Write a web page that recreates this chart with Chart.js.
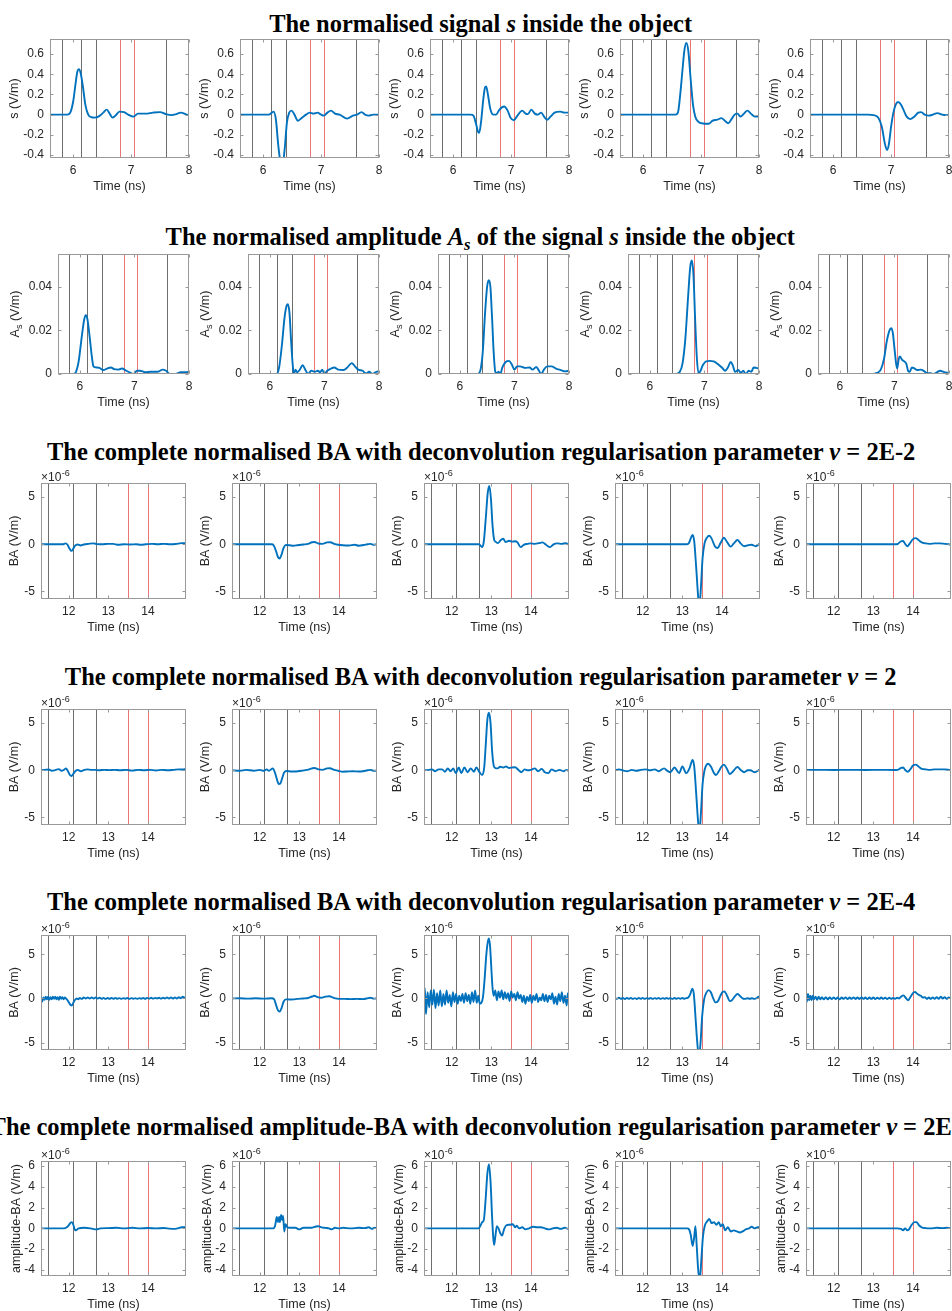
<!DOCTYPE html>
<html>
<head>
<meta charset="utf-8">
<script src="https://cdn.jsdelivr.net/npm/chart.js@4.4.1/dist/chart.umd.min.js"></script>
<style>
  html, body { margin: 0; padding: 0; background: #fff; }
  body { width: 952px; height: 1311px; overflow: hidden; position: relative; }
  .rowTitle {
    position: absolute; white-space: nowrap; color: #000;
    font-family: "Liberation Serif", "DejaVu Serif", serif; font-weight: bold;
    font-size: 26px; line-height: 1; transform-origin: 50% 50%;
  }
  .rowTitle sub { font-size: 0.68em; line-height: 0; vertical-align: -0.28em; }
  canvas { position: absolute; }
</style>
</head>
<body>
<script>
// ---------- time axes ----------
const tickTimeS  = [6, 7, 8];
const tickTimeBA = [12, 13, 14];

// ---------- value axes ----------
const tickS   = [-0.4, -0.2, 0, 0.2, 0.4, 0.6];
const tickAs  = [0, 0.02, 0.04];
const tickBA  = [-5, 0, 5];
const tickABA = [-4, -2, 0, 2, 4, 6];

// ---------- event markers (ns) ----------
const markS      = [5.8, 6.13, 6.4, 7.6];
const markSRed   = [6.8, 7.05];
const markBA     = [11.47, 12.1, 12.7];
const markBARed  = [13.5, 14.0];

// ---------- signal s inside the object (V/m) ----------
const sig1 = [[5.6,0],[5.9,0],[5.95,0.02],[6.0,0.13],[6.04,0.3],[6.07,0.42],[6.1,0.45],[6.13,0.41],[6.17,0.27],[6.21,0.1],[6.26,0.0],[6.31,-0.025],[6.37,-0.03],[6.45,-0.015],[6.52,0.02],[6.58,0.05],[6.63,0.01],[6.68,-0.03],[6.73,-0.01],[6.8,0.03],[6.88,0.025],[6.95,0.0],[7.04,-0.02],[7.12,0.01],[7.25,0.01],[7.38,0.02],[7.5,0.025],[7.6,0.005],[7.7,-0.005],[7.78,0.005],[7.86,0.02],[7.94,0.005],[8.0,-0.01]];
const sig2 = [[5.6,0],[6.1,0],[6.15,0.02],[6.18,0.03],[6.22,-0.05],[6.26,-0.3],[6.3,-0.48],[6.33,-0.52],[6.37,-0.35],[6.41,-0.08],[6.45,0.02],[6.49,0.04],[6.54,0.0],[6.6,-0.06],[6.67,-0.03],[6.74,0.0],[6.8,0.02],[6.87,0.01],[6.94,0.02],[7.0,0.0],[7.05,-0.01],[7.11,0.02],[7.17,0.04],[7.24,0.01],[7.32,0.0],[7.45,-0.04],[7.55,-0.01],[7.62,0.0],[7.7,0.025],[7.76,0.0],[7.82,-0.01],[7.9,0.0],[8.0,0.0]];
const sig3 = [[5.6,0],[6.3,0],[6.35,-0.01],[6.39,-0.08],[6.43,-0.17],[6.45,-0.18],[6.48,-0.08],[6.52,0.15],[6.55,0.27],[6.57,0.28],[6.6,0.2],[6.64,0.06],[6.69,0.0],[6.74,0.0],[6.8,0.05],[6.88,0.08],[6.94,0.04],[6.99,-0.03],[7.05,-0.055],[7.11,-0.01],[7.19,0.04],[7.25,0.01],[7.29,0.005],[7.35,0.05],[7.41,0.01],[7.46,0.0],[7.52,0.02],[7.57,-0.02],[7.62,-0.05],[7.68,-0.02],[7.75,0.02],[7.85,0.03],[7.92,0.02],[8.0,0.02]];
const sig4 = [[5.6,0],[6.56,0],[6.6,0.02],[6.64,0.2],[6.68,0.45],[6.71,0.63],[6.745,0.71],[6.78,0.63],[6.82,0.35],[6.86,0.1],[6.9,-0.02],[6.95,-0.07],[7.0,-0.085],[7.07,-0.09],[7.13,-0.09],[7.2,-0.06],[7.28,-0.05],[7.35,-0.035],[7.41,-0.06],[7.47,-0.085],[7.53,-0.04],[7.58,0.0],[7.63,0.01],[7.68,-0.02],[7.74,0.01],[7.8,0.04],[7.86,0.01],[7.93,-0.02],[8.0,-0.02]];
const sig5 = [[5.6,0],[6.6,0],[6.7,-0.005],[6.78,-0.03],[6.84,-0.12],[6.89,-0.28],[6.93,-0.35],[6.96,-0.3],[7.0,-0.12],[7.04,0.02],[7.08,0.1],[7.12,0.125],[7.17,0.1],[7.22,0.04],[7.27,-0.02],[7.33,-0.045],[7.4,-0.02],[7.47,0.02],[7.52,0.025],[7.58,0.0],[7.65,-0.01],[7.72,0.0],[7.8,0.015],[7.88,0.0],[7.95,-0.005],[8.0,0.0]];

// ---------- amplitude A_s of the signal (V/m) ----------
const amp1 = [[5.6,0],[5.88,0],[5.93,0.001],[5.98,0.006],[6.03,0.016],[6.08,0.025],[6.11,0.027],[6.14,0.025],[6.18,0.017],[6.22,0.008],[6.25,0.0035],[6.3,0.003],[6.36,0.0028],[6.43,0.0018],[6.5,0.0025],[6.57,0.003],[6.63,0.0022],[6.7,0.002],[6.77,0.0025],[6.85,0.0015],[6.93,0.0005],[6.98,0.0],[7.05,0.0015],[7.1,0.0015],[7.2,0.0008],[7.3,0.001],[7.42,0.001],[7.52,0.002],[7.58,0.0015],[7.65,0.0],[7.75,0.0],[7.85,0.0008],[7.95,0.0008],[8.0,0.001]];
const amp2 = [[5.6,0],[6.12,0],[6.17,0.003],[6.22,0.013],[6.27,0.026],[6.31,0.0315],[6.33,0.032],[6.36,0.028],[6.39,0.015],[6.42,0.004],[6.44,0.0],[6.47,0.002],[6.5,0.0008],[6.55,0.002],[6.6,0.004],[6.65,0.002],[6.7,0.0],[6.76,0.0015],[6.82,0.001],[6.88,0.0015],[6.92,0.0008],[6.96,0.002],[7.0,0.0],[7.05,0.0015],[7.12,0.0025],[7.18,0.003],[7.25,0.002],[7.35,0.0018],[7.42,0.003],[7.5,0.005],[7.56,0.0035],[7.62,0.002],[7.7,0.0015],[7.76,0.0002],[7.82,0.001],[7.88,0.0],[7.95,0.001],[8.0,0.0012]];
const amp3 = [[5.6,0],[6.33,0],[6.38,0.002],[6.42,0.01],[6.46,0.027],[6.5,0.04],[6.53,0.043],[6.56,0.04],[6.59,0.026],[6.62,0.01],[6.65,0.001],[6.68,0.0005],[6.71,0.001],[6.74,0.0],[6.78,0.003],[6.84,0.0055],[6.9,0.006],[6.95,0.0045],[7.0,0.002],[7.05,0.0035],[7.1,0.0035],[7.2,0.0028],[7.28,0.003],[7.33,0.002],[7.4,0.0032],[7.45,0.0015],[7.49,0.0],[7.54,0.002],[7.6,0.0035],[7.68,0.0035],[7.76,0.0025],[7.85,0.0018],[7.93,0.0012],[8.0,0.0015]];
const amp4 = [[5.6,0],[6.48,0],[6.55,0.001],[6.6,0.005],[6.65,0.016],[6.7,0.035],[6.74,0.049],[6.77,0.052],[6.8,0.045],[6.83,0.025],[6.86,0.008],[6.89,0.0005],[6.92,0.001],[6.97,0.004],[7.03,0.0058],[7.1,0.006],[7.17,0.0058],[7.25,0.0045],[7.32,0.003],[7.38,0.0015],[7.43,0.003],[7.48,0.0055],[7.52,0.004],[7.56,0.001],[7.62,0.0018],[7.67,0.0005],[7.71,0.0015],[7.76,0.0],[7.81,0.0015],[7.86,0.001],[7.9,0.003],[7.95,0.0028],[8.0,0.0025]];
const amp5 = [[5.6,0],[6.6,0],[6.68,0.0005],[6.75,0.002],[6.81,0.007],[6.86,0.015],[6.91,0.02],[6.94,0.021],[6.97,0.019],[7.0,0.012],[7.03,0.005],[7.05,0.0025],[7.08,0.007],[7.1,0.008],[7.14,0.0065],[7.18,0.0058],[7.22,0.0045],[7.25,0.0015],[7.28,0.001],[7.32,0.003],[7.37,0.0025],[7.42,0.0018],[7.48,0.002],[7.55,0.0012],[7.6,0.0003],[7.66,0.0004],[7.72,0.0],[7.78,0.0008],[7.84,0.0015],[7.9,0.001],[8.0,0.0004]];

// ---------- BA, nu = 2E-2 (x 1e-6 V/m) ----------
const baA1 = [[11.3,0],[11.85,0],[11.92,0.1],[11.97,-0.05],[12.02,-0.45],[12.07,-0.7],[12.11,-0.5],[12.16,-0.15],[12.22,-0.02],[12.3,-0.12],[12.38,-0.02],[12.5,0.05],[12.62,0.1],[12.72,0.02],[12.85,0.0],[13.0,0.05],[13.12,0.05],[13.25,-0.05],[13.4,0.0],[13.55,-0.02],[13.7,0.0],[13.82,-0.05],[13.95,0.0],[14.1,0.05],[14.25,0.0],[14.4,0.05],[14.55,0.0],[14.7,0.03],[14.85,0.12],[14.96,0.1]];
const baA2 = [[11.3,0],[12.3,0],[12.35,-0.1],[12.41,-0.7],[12.46,-1.35],[12.5,-1.5],[12.55,-1.1],[12.6,-0.4],[12.66,-0.08],[12.75,-0.1],[12.85,-0.15],[12.95,-0.1],[13.1,-0.02],[13.22,0.05],[13.32,0.22],[13.38,0.25],[13.48,0.08],[13.58,0.05],[13.7,0.2],[13.78,0.22],[13.88,0.05],[13.98,-0.05],[14.1,-0.1],[14.25,-0.12],[14.4,-0.05],[14.5,-0.15],[14.62,-0.08],[14.72,0.0],[14.8,0.05],[14.86,-0.05],[14.96,0.0]];
const baA3 = [[11.3,0],[12.68,0],[12.72,-0.1],[12.77,-0.3],[12.81,0.3],[12.86,2.8],[12.91,5.5],[12.95,6.2],[12.99,4.8],[13.03,2.0],[13.07,0.5],[13.1,0.3],[13.16,0.12],[13.24,0.45],[13.3,0.6],[13.36,0.25],[13.45,0.38],[13.52,0.28],[13.6,0.32],[13.66,0.2],[13.74,-0.3],[13.82,-0.05],[13.92,0.05],[13.99,0.1],[14.1,0.05],[14.2,0.12],[14.29,0.2],[14.38,-0.05],[14.48,-0.3],[14.57,0.0],[14.66,0.1],[14.78,0.05],[14.88,0.12],[14.96,-0.1]];
const baA4 = [[11.3,0],[13.1,0],[13.16,0.1],[13.22,0.7],[13.26,1.0],[13.3,0.3],[13.35,-2.5],[13.4,-5.6],[13.43,-6.6],[13.47,-4.5],[13.51,-1.5],[13.56,0.1],[13.62,0.7],[13.68,0.9],[13.74,0.6],[13.82,-0.2],[13.89,-0.4],[13.96,0.1],[14.05,0.7],[14.12,0.3],[14.22,-0.25],[14.3,0.1],[14.39,0.45],[14.47,0.1],[14.56,-0.2],[14.66,-0.1],[14.75,-0.05],[14.85,-0.2],[14.96,0.1]];
const baA5 = [[11.3,0],[13.55,0],[13.62,0.05],[13.69,0.3],[13.75,0.35],[13.81,0.0],[13.86,-0.2],[13.92,0.1],[14.0,0.55],[14.07,0.65],[14.14,0.45],[14.22,0.2],[14.32,0.1],[14.42,0.05],[14.55,0.1],[14.68,0.1],[14.8,0.05],[14.9,0.0],[14.96,-0.05]];

// ---------- BA, nu = 2 (x 1e-6 V/m) ----------
const baB1 = [[11.3,0],[11.38,0.05],[11.49,0.08],[11.58,-0.05],[11.66,0.02],[11.75,0.12],[11.82,-0.05],[11.88,0.05],[11.93,0.2],[11.98,-0.1],[12.03,-0.5],[12.07,-0.6],[12.12,-0.35],[12.17,-0.08],[12.23,0.05],[12.3,-0.1],[12.38,0.02],[12.47,0.1],[12.57,0.05],[12.67,0.05],[12.77,0.0],[12.9,0.05],[13.03,0.02],[13.15,0.05],[13.3,0.0],[13.45,0.05],[13.6,-0.03],[13.75,0.05],[13.9,0.0],[14.05,0.05],[14.2,-0.02],[14.35,0.05],[14.5,0.0],[14.65,0.05],[14.78,0.1],[14.88,0.08],[14.96,0.15]];
const baB2 = [[11.3,0],[11.5,-0.05],[11.65,0.05],[11.85,-0.05],[12.0,0.05],[12.1,-0.05],[12.18,0.1],[12.23,-0.05],[12.33,0.2],[12.38,-0.2],[12.43,-0.9],[12.48,-1.45],[12.52,-1.4],[12.57,-0.8],[12.62,-0.2],[12.68,-0.08],[12.8,-0.12],[12.92,-0.12],[13.05,-0.05],[13.2,0.05],[13.32,0.2],[13.38,0.25],[13.48,0.1],[13.58,0.05],[13.7,0.2],[13.77,0.22],[13.88,0.05],[13.98,-0.05],[14.1,-0.15],[14.22,-0.12],[14.35,-0.1],[14.5,-0.12],[14.6,-0.1],[14.72,0.0],[14.8,0.05],[14.88,-0.05],[14.96,-0.05]];
const baB3 = [[11.3,0],[11.42,0.05],[11.5,0.1],[11.58,-0.1],[11.67,0.1],[11.76,0.1],[11.83,-0.15],[11.9,0.2],[11.97,-0.1],[12.04,0.2],[12.1,-0.3],[12.18,0.3],[12.24,-0.3],[12.32,0.3],[12.4,-0.2],[12.48,0.2],[12.56,-0.15],[12.62,0.3],[12.7,-0.2],[12.77,-0.5],[12.82,0.3],[12.86,2.8],[12.9,5.4],[12.94,6.1],[12.98,5.0],[13.02,2.0],[13.06,0.5],[13.1,0.25],[13.16,0.2],[13.22,0.38],[13.3,0.3],[13.37,0.4],[13.45,0.25],[13.52,0.3],[13.6,0.32],[13.68,0.05],[13.76,-0.2],[13.84,0.1],[13.92,0.0],[14.0,0.05],[14.1,0.2],[14.18,-0.1],[14.27,0.15],[14.35,-0.2],[14.44,-0.3],[14.52,0.1],[14.62,-0.1],[14.72,0.05],[14.82,-0.1],[14.9,0.05],[14.96,-0.1]];
const baB4 = [[11.3,0],[11.4,0.1],[11.5,-0.02],[11.62,-0.1],[11.72,0.05],[11.85,-0.05],[11.95,0.05],[12.08,0.1],[12.18,0.0],[12.3,0.1],[12.4,-0.1],[12.54,0.2],[12.62,-0.05],[12.7,-0.2],[12.8,0.3],[12.92,-0.3],[13.0,0.4],[13.1,-0.3],[13.18,0.2],[13.26,1.1],[13.3,0.4],[13.35,-2.5],[13.4,-5.6],[13.43,-6.6],[13.47,-4.5],[13.51,-1.5],[13.56,0.0],[13.6,0.5],[13.65,0.7],[13.72,0.4],[13.8,-0.3],[13.85,-0.5],[13.92,-0.1],[13.99,0.4],[14.05,0.6],[14.12,0.2],[14.2,-0.4],[14.28,-0.1],[14.39,0.35],[14.48,0.0],[14.56,-0.2],[14.65,0.0],[14.72,0.0],[14.82,-0.2],[14.96,0.1]];
const baB5 = [[11.3,0.05],[11.6,0.05],[12.0,0.03],[12.4,0.05],[12.8,0.03],[13.2,0.05],[13.5,0.03],[13.62,0.05],[13.7,0.25],[13.75,0.3],[13.81,0.0],[13.87,-0.15],[13.94,0.15],[14.0,0.5],[14.07,0.6],[14.14,0.4],[14.22,0.15],[14.32,0.1],[14.42,0.05],[14.55,0.1],[14.68,0.1],[14.8,0.1],[14.9,0.05],[14.96,0.0]];

// ---------- BA, nu = 2E-4 (x 1e-6 V/m) ----------
const baC1 = [[11.3,-0.1],[11.33,-0.35],[11.36,0.1],[11.39,-0.15],[11.42,0.2],[11.45,-0.1],[11.48,0.2],[11.51,-0.15],[11.54,0.15],[11.57,-0.1],[11.6,0.2],[11.63,-0.05],[11.66,0.2],[11.69,-0.1],[11.72,0.15],[11.75,-0.15],[11.78,0.2],[11.81,-0.05],[11.84,0.15],[11.87,-0.1],[11.9,0.1],[11.93,0.0],[11.97,-0.2],[12.01,-0.5],[12.05,-0.75],[12.08,-0.8],[12.12,-0.45],[12.16,-0.15],[12.2,0.0],[12.24,-0.1],[12.28,0.05],[12.33,-0.05],[12.38,0.1],[12.43,0.0],[12.48,0.1],[12.53,0.0],[12.58,0.1],[12.63,-0.02],[12.68,0.1],[12.73,0.0],[12.78,0.08],[12.83,-0.04],[12.88,0.06],[12.93,-0.05],[12.98,0.05],[13.03,-0.04],[13.08,0.05],[13.13,-0.03],[13.18,0.06],[13.23,-0.04],[13.28,0.04],[13.33,-0.05],[13.38,0.03],[13.43,-0.03],[13.48,0.05],[13.53,-0.05],[13.58,0.04],[13.63,-0.04],[13.68,0.03],[13.73,-0.05],[13.78,0.04],[13.83,-0.03],[13.88,0.05],[13.93,-0.04],[13.98,0.06],[14.03,-0.02],[14.08,0.08],[14.13,-0.02],[14.18,0.07],[14.23,0.0],[14.28,0.08],[14.33,-0.02],[14.38,0.08],[14.43,0.0],[14.48,0.1],[14.53,0.0],[14.58,0.1],[14.63,-0.02],[14.68,0.12],[14.73,0.0],[14.78,0.14],[14.83,0.02],[14.88,0.2],[14.92,0.08],[14.96,0.15]];
const baC2 = [[11.3,0],[11.5,0.02],[11.7,-0.02],[11.9,0.02],[12.1,-0.02],[12.3,0.02],[12.36,-0.05],[12.41,-0.7],[12.46,-1.35],[12.5,-1.5],[12.55,-1.1],[12.6,-0.4],[12.66,-0.1],[12.75,-0.12],[12.85,-0.1],[12.95,-0.05],[13.1,0.0],[13.22,0.05],[13.32,0.22],[13.38,0.3],[13.46,0.15],[13.55,0.08],[13.66,0.2],[13.76,0.25],[13.85,0.1],[13.95,-0.02],[14.05,-0.05],[14.15,-0.05],[14.3,-0.08],[14.45,-0.05],[14.6,-0.08],[14.7,0.0],[14.8,0.08],[14.87,-0.02],[14.96,0.0]];
const baC3 = [[11.3,0.3],[11.32,1.2],[11.35,-1.8],[11.39,0.7],[11.43,-1.0],[11.47,0.9],[11.51,-0.7],[11.55,1.0],[11.59,-1.1],[11.63,0.6],[11.67,-0.8],[11.71,0.9],[11.75,-0.9],[11.79,0.5],[11.83,-0.7],[11.87,0.9],[11.91,-0.5],[11.95,0.4],[11.99,-0.9],[12.03,0.7],[12.07,-0.4],[12.11,0.5],[12.15,-0.6],[12.19,0.3],[12.23,-0.3],[12.27,0.5],[12.31,-0.5],[12.35,0.6],[12.39,-0.3],[12.43,0.4],[12.47,-0.6],[12.51,0.7],[12.55,-0.4],[12.59,0.9],[12.63,-0.5],[12.67,0.3],[12.71,-0.6],[12.75,-0.5],[12.79,0.2],[12.83,2.2],[12.87,4.8],[12.91,6.4],[12.94,6.8],[12.97,5.8],[13.0,3.4],[13.03,1.2],[13.06,0.3],[13.1,0.9],[13.14,-0.2],[13.18,0.8],[13.22,0.1],[13.26,0.9],[13.3,-0.1],[13.34,0.7],[13.38,0.0],[13.42,0.6],[13.46,-0.3],[13.5,0.8],[13.54,0.1],[13.58,0.5],[13.62,-0.2],[13.66,0.7],[13.7,0.0],[13.74,0.4],[13.78,-0.4],[13.82,0.3],[13.86,-0.6],[13.9,0.2],[13.94,-0.3],[13.98,0.4],[14.02,-0.5],[14.06,0.3],[14.1,-0.2],[14.14,0.5],[14.18,-0.4],[14.22,0.1],[14.26,-0.2],[14.3,0.5],[14.34,-0.3],[14.38,0.4],[14.42,-0.4],[14.46,0.3],[14.5,-0.1],[14.54,0.6],[14.58,-0.6],[14.62,0.2],[14.66,-0.7],[14.7,0.5],[14.74,-0.3],[14.78,0.7],[14.82,-0.5],[14.86,0.3],[14.9,-0.8],[14.93,0.6],[14.96,-0.3]];
const baC4 = [[11.3,0.05],[11.35,-0.05],[11.4,0.08],[11.45,-0.04],[11.5,0.06],[11.55,-0.06],[11.6,0.05],[11.65,-0.03],[11.7,0.06],[11.75,-0.05],[11.8,0.04],[11.85,-0.06],[11.9,0.05],[11.95,-0.03],[12.0,0.06],[12.05,-0.05],[12.1,0.04],[12.15,-0.04],[12.2,0.05],[12.25,-0.05],[12.3,0.04],[12.35,-0.03],[12.4,0.05],[12.45,-0.05],[12.5,0.04],[12.55,-0.04],[12.6,0.05],[12.65,-0.03],[12.7,0.04],[12.75,-0.05],[12.8,0.05],[12.85,-0.04],[12.9,0.04],[12.95,-0.03],[13.0,0.05],[13.05,-0.04],[13.1,0.04],[13.15,0.1],[13.2,0.5],[13.25,1.1],[13.29,0.5],[13.33,-2.0],[13.38,-5.2],[13.42,-6.6],[13.46,-5.0],[13.5,-2.0],[13.55,-0.1],[13.6,0.6],[13.66,0.95],[13.72,0.7],[13.78,0.0],[13.84,-0.45],[13.9,-0.3],[13.96,0.3],[14.02,0.75],[14.06,0.8],[14.12,0.4],[14.2,-0.3],[14.25,-0.2],[14.32,0.2],[14.39,0.5],[14.45,0.3],[14.52,0.0],[14.58,-0.05],[14.64,0.02],[14.7,-0.03],[14.76,0.02],[14.82,-0.05],[14.88,0.05],[14.92,0.2],[14.96,0.15]];
const baC5 = [[11.3,0.6],[11.32,-0.4],[11.35,0.5],[11.38,-0.2],[11.41,0.3],[11.44,-0.2],[11.47,0.3],[11.5,-0.1],[11.54,0.2],[11.58,-0.15],[11.62,0.2],[11.66,-0.1],[11.7,0.15],[11.75,-0.1],[11.8,0.15],[11.85,-0.1],[11.9,0.12],[11.95,-0.08],[12.0,0.12],[12.05,-0.08],[12.1,0.1],[12.15,-0.1],[12.2,0.1],[12.25,-0.05],[12.3,0.12],[12.35,-0.08],[12.4,0.1],[12.45,-0.05],[12.5,0.12],[12.55,-0.06],[12.6,0.1],[12.65,-0.06],[12.7,0.12],[12.75,-0.05],[12.8,0.1],[12.85,-0.08],[12.9,0.1],[12.95,-0.05],[13.0,0.1],[13.05,-0.06],[13.1,0.08],[13.15,-0.05],[13.2,0.1],[13.25,-0.05],[13.3,0.08],[13.35,-0.06],[13.4,0.08],[13.45,-0.04],[13.5,0.06],[13.55,-0.04],[13.6,0.08],[13.65,0.0],[13.7,0.2],[13.76,0.35],[13.82,0.05],[13.88,-0.2],[13.94,0.2],[14.0,0.6],[14.05,0.75],[14.1,0.55],[14.15,0.4],[14.2,0.3],[14.25,0.1],[14.3,0.15],[14.35,-0.05],[14.4,0.1],[14.45,-0.05],[14.5,0.12],[14.55,-0.05],[14.6,0.15],[14.65,-0.05],[14.7,0.2],[14.75,-0.02],[14.8,0.15],[14.85,-0.05],[14.9,0.1],[14.96,0.0]];

// ---------- amplitude-BA (x 1e-6 V/m) ----------
const abA1 = [[11.3,0],[11.88,0],[11.95,0.1],[12.0,0.3],[12.05,0.55],[12.08,0.6],[12.12,0.3],[12.16,-0.2],[12.2,-0.15],[12.25,0.0],[12.4,0.05],[12.55,0.0],[12.7,-0.1],[12.8,0.0],[13.0,0.02],[13.2,0.05],[13.4,0.0],[13.6,0.05],[13.8,0.0],[14.0,0.03],[14.2,0.0],[14.4,0.03],[14.55,-0.03],[14.65,-0.05],[14.75,0.0],[14.85,0.1],[14.96,0.12]];
const abA2 = [[11.3,0],[12.35,0],[12.39,0.3],[12.43,1.1],[12.46,0.6],[12.49,1.1],[12.51,0.6],[12.54,1.3],[12.57,0.8],[12.59,1.2],[12.62,-0.3],[12.65,0.4],[12.7,0.1],[12.8,0.05],[12.9,0.05],[13.0,-0.1],[13.1,0.05],[13.3,0.05],[13.42,0.18],[13.48,0.2],[13.56,0.1],[13.65,0.05],[13.75,0.0],[13.82,-0.1],[13.9,0.05],[14.0,0.0],[14.1,0.05],[14.3,0.0],[14.5,0.05],[14.65,0.02],[14.75,0.1],[14.83,-0.05],[14.9,0.05],[14.96,0.0]];
const abA3 = [[11.3,0],[12.68,0],[12.73,0.3],[12.77,0.6],[12.81,0.8],[12.85,2.5],[12.9,5.3],[12.94,6.2],[12.98,4.5],[13.02,1.0],[13.05,-1.0],[13.07,-1.6],[13.1,-0.8],[13.14,0.2],[13.18,0.0],[13.23,-0.5],[13.27,-0.7],[13.32,-0.1],[13.38,0.3],[13.46,0.35],[13.54,0.4],[13.6,0.1],[13.64,0.25],[13.7,0.0],[13.78,0.1],[13.86,-0.1],[13.95,0.0],[14.05,0.15],[14.15,0.1],[14.25,0.1],[14.35,0.0],[14.45,-0.1],[14.55,0.0],[14.65,0.05],[14.75,-0.05],[14.85,0.05],[14.96,-0.1]];
const abA4 = [[11.3,0],[13.12,0],[13.17,-0.1],[13.21,-0.6],[13.26,-1.7],[13.3,-0.8],[13.33,0.2],[13.36,-1.5],[13.4,-4.0],[13.44,-5.0],[13.48,-3.0],[13.52,-0.8],[13.57,0.3],[13.63,0.7],[13.68,0.9],[13.74,0.5],[13.8,0.6],[13.86,0.35],[13.92,0.6],[13.97,0.2],[14.02,0.4],[14.08,-0.2],[14.15,0.1],[14.22,-0.3],[14.3,-0.2],[14.38,-0.3],[14.45,-0.4],[14.52,-0.3],[14.6,-0.1],[14.68,0.0],[14.75,0.15],[14.82,0.0],[14.9,0.1],[14.96,0.1]];
const abA5 = [[11.3,0],[13.6,0],[13.7,-0.05],[13.75,-0.2],[13.8,0.0],[13.86,-0.2],[13.9,-0.1],[13.96,0.3],[14.04,0.6],[14.09,0.6],[14.15,0.3],[14.22,0.1],[14.32,0.02],[14.45,0.0],[14.6,0.05],[14.75,0.02],[14.85,0.05],[14.96,0.0]];

// ---------- row headings ----------
const headS   = 'The normalised signal <i>s</i> inside the object';
const headAs  = 'The normalised amplitude <i>A<sub>s</sub></i> of the signal <i>s</i> inside the object';
const headBA1 = 'The complete normalised BA with deconvolution regularisation parameter <i>ν</i> = 2E-2';
const headBA2 = 'The complete normalised BA with deconvolution regularisation parameter <i>ν</i> = 2';
const headBA3 = 'The complete normalised BA with deconvolution regularisation parameter <i>ν</i> = 2E-4';
const headABA = 'The complete normalised amplitude-BA with deconvolution regularisation parameter <i>ν</i> = 2E-2';

// ---------- styling ----------
const BLUE = '#0072BD', LINE_DARK = '#6e6e6e', LINE_RED = '#ea7575', FRAME = '#999999', INK = '#262626';
const SANS = '"Liberation Sans", Arial, Helvetica, sans-serif';
Chart.defaults.font.family = SANS;
Chart.defaults.color = INK;
const TICK_PX = 12, LABEL_PX = 12.5;

// canvas margins around each plot area
const PAD_L = 56, PAD_T = 20, PAD_R = 10, PAD_B = 42;

const rows = [
  { head: headS,   base: 32,   top: 39,   h: 119, left0: 50, step: 190,   w: 139, x: [5.6, 8],    xt: tickTimeS,  y: [-0.43, 0.75], yt: tickS,   yLab: [['s (V/m)', 0]], yOff: 35, exp: false, dark: markS,  red: markSRed,  series: [sig1, sig2, sig3, sig4, sig5] },
  { head: headAs,  base: 245,  top: 254,  h: 120, left0: 58, step: 190,   w: 131, x: [5.6, 8],    xt: tickTimeS,  y: [0, 0.055],    yt: tickAs,  yLab: [['A', 0], ['s', 1], [' (V/m)', 0]], yOff: 42, exp: false, dark: markS, red: markSRed, series: [amp1, amp2, amp3, amp4, amp5] },
  { head: headBA1, base: 460.5, top: 483, h: 116, left0: 41, step: 191.3, w: 145, x: [11.3, 14.96], xt: tickTimeBA, y: [-5.8, 6.5], yt: tickBA,  yLab: [['BA (V/m)', 0]], yOff: 26, exp: true, dark: markBA, red: markBARed, series: [baA1, baA2, baA3, baA4, baA5] },
  { head: headBA2, base: 685,  top: 709,  h: 116, left0: 41, step: 191.3, w: 145, x: [11.3, 14.96], xt: tickTimeBA, y: [-5.8, 6.5], yt: tickBA,  yLab: [['BA (V/m)', 0]], yOff: 26, exp: true, dark: markBA, red: markBARed, series: [baB1, baB2, baB3, baB4, baB5] },
  { head: headBA3, base: 910.5, top: 935, h: 115, left0: 41, step: 191.3, w: 145, x: [11.3, 14.96], xt: tickTimeBA, y: [-5.85, 7.2], yt: tickBA, yLab: [['BA (V/m)', 0]], yOff: 26, exp: true, dark: markBA, red: markBARed, series: [baC1, baC2, baC3, baC4, baC5] },
  { head: headABA, base: 1135, top: 1161, h: 115, left0: 41, step: 191.3, w: 145, x: [11.3, 14.96], xt: tickTimeBA, y: [-4.6, 6.5], yt: tickABA, yLab: [['amplitude-BA (V/m)', 0]], yOff: 24, exp: true, dark: markBA, red: markBARed, series: [abA1, abA2, abA3, abA4, abA5] }
];

// event lines under the curve, frame, inward ticks, axis titles and exponent on top
const panelDecor = {
  id: 'panelDecor',
  beforeDatasetsDraw(chart, _args, o) {
    const { ctx, chartArea: a, scales: { x } } = chart;
    ctx.save();
    ctx.beginPath();
    ctx.rect(a.left, a.top, a.right - a.left, a.bottom - a.top);
    ctx.clip();
    ctx.lineWidth = 1;
    const vlines = (list, col) => list.forEach(t => {
      const px = Math.round(x.getPixelForValue(t)) + 0.5;
      ctx.strokeStyle = col;
      ctx.beginPath(); ctx.moveTo(px, a.top); ctx.lineTo(px, a.bottom); ctx.stroke();
    });
    vlines(o.dark, LINE_DARK);
    vlines(o.red, LINE_RED);
    ctx.restore();
  },
  afterDraw(chart, _args, o) {
    const { ctx, chartArea: a, scales: { x, y } } = chart;
    const l = Math.round(a.left) + 0.5, r = Math.round(a.right) - 0.5;
    const t = Math.round(a.top) + 0.5, b = Math.round(a.bottom) - 0.5;
    ctx.save();
    ctx.strokeStyle = FRAME; ctx.lineWidth = 1;
    ctx.strokeRect(l, t, r - l, b - t);
    ctx.beginPath();
    x.ticks.forEach(tk => {
      const px = Math.round(x.getPixelForValue(tk.value)) + 0.5;
      ctx.moveTo(px, b); ctx.lineTo(px, b - 3);
      ctx.moveTo(px, t); ctx.lineTo(px, t + 3);
    });
    y.ticks.forEach(tk => {
      const py = Math.round(y.getPixelForValue(tk.value)) + 0.5;
      ctx.moveTo(l, py); ctx.lineTo(l + 3, py);
      ctx.moveTo(r, py); ctx.lineTo(r - 3, py);
    });
    ctx.stroke();

    ctx.fillStyle = INK;
    ctx.font = LABEL_PX + 'px ' + SANS;
    ctx.textAlign = 'center';
    ctx.textBaseline = 'alphabetic';
    ctx.fillText('Time (ns)', (a.left + a.right) / 2, a.bottom + 32);

    // vertical axis title, with optional subscript pieces
    ctx.save();
    ctx.translate(a.left - o.yOff, (a.top + a.bottom) / 2);
    ctx.rotate(-Math.PI / 2);
    ctx.textAlign = 'left';
    ctx.textBaseline = 'middle';
    const fontFor = sub => (sub ? '9px ' : LABEL_PX + 'px ') + SANS;
    let total = 0;
    o.yLab.forEach(([txt, sub]) => { ctx.font = fontFor(sub); total += ctx.measureText(txt).width; });
    let cx = -total / 2;
    o.yLab.forEach(([txt, sub]) => {
      ctx.font = fontFor(sub);
      ctx.fillText(txt, cx, sub ? 4 : 0);
      cx += ctx.measureText(txt).width;
    });
    ctx.restore();

    if (o.exp) {
      ctx.textAlign = 'left';
      ctx.textBaseline = 'alphabetic';
      ctx.font = '12px ' + SANS;
      ctx.fillText('\u00d710', a.left, a.top - 2);
      const wBase = ctx.measureText('\u00d710').width;
      ctx.font = '9px ' + SANS;
      ctx.fillText('-6', a.left + wBase + 0.5, a.top - 7);
    }
    ctx.restore();
  }
};

const fmt = v => String(Math.round(v * 1e6) / 1e6);

function buildPanel(row, idx) {
  const plotLeft = Math.round(row.left0 + row.step * idx);
  const cw = PAD_L + row.w + PAD_R, ch = PAD_T + row.h + PAD_B;
  const cv = document.createElement('canvas');
  cv.width = cw; cv.height = ch;
  cv.style.width = cw + 'px'; cv.style.height = ch + 'px';
  cv.style.left = (plotLeft - PAD_L) + 'px';
  cv.style.top = (row.top - PAD_T) + 'px';
  document.body.appendChild(cv);

  new Chart(cv.getContext('2d'), {
    type: 'line',
    data: {
      datasets: [{
        data: row.series[idx].map(([t, v]) => ({ x: t, y: v })),
        borderColor: BLUE, borderWidth: 1.9, pointRadius: 0,
        cubicInterpolationMode: 'monotone', fill: false, clip: 0
      }]
    },
    options: {
      responsive: false, animation: false, devicePixelRatio: 1, events: [],
      layout: { padding: { left: 0, top: PAD_T, right: PAD_R, bottom: 0 } },
      plugins: {
        legend: { display: false }, tooltip: { enabled: false },
        panelDecor: { dark: row.dark, red: row.red, yLab: row.yLab, yOff: row.yOff, exp: row.exp }
      },
      scales: {
        x: {
          type: 'linear', position: 'bottom', min: row.x[0], max: row.x[1],
          grid: { display: false, drawTicks: false }, border: { display: false },
          afterBuildTicks: s => { s.ticks = row.xt.map(v => ({ value: v })); },
          afterFit: s => { s.height = PAD_B; },
          ticks: { font: { size: TICK_PX }, color: INK, padding: 5, maxRotation: 0, autoSkip: false, callback: fmt }
        },
        y: {
          type: 'linear', position: 'left', min: row.y[0], max: row.y[1],
          grid: { display: false, drawTicks: false }, border: { display: false },
          afterBuildTicks: s => { s.ticks = row.yt.map(v => ({ value: v })); },
          afterFit: s => { s.width = PAD_L; },
          ticks: { font: { size: TICK_PX }, color: INK, padding: 6, autoSkip: false, callback: fmt }
        }
      }
    },
    plugins: [panelDecor]
  });
}

// row headings, centred over the grid
(function placeHeadings() {
  const probe = document.createElement('canvas').getContext('2d');
  probe.font = 'bold 26px "Liberation Serif", "DejaVu Serif", serif';
  const m = probe.measureText('Th');
  const asc = m.fontBoundingBoxAscent, desc = m.fontBoundingBoxDescent;
  const baseOffset = (26 - (asc + desc)) / 2 + asc;
  const divs = rows.map(row => {
    const d = document.createElement('div');
    d.className = 'rowTitle';
    d.innerHTML = row.head;
    document.body.appendChild(d);
    return d;
  });
  const k = 868 / divs[2].offsetWidth;
  divs.forEach((d, i) => {
    const w = d.offsetWidth;
    d.style.left = (480.5 - w / 2) + 'px';
    d.style.top = (rows[i].base - baseOffset) + 'px';
    d.style.transform = 'scaleX(' + k + ')';
  });
})();

rows.forEach(row => row.series.forEach((_, i) => buildPanel(row, i)));
</script>
</body>
</html>
